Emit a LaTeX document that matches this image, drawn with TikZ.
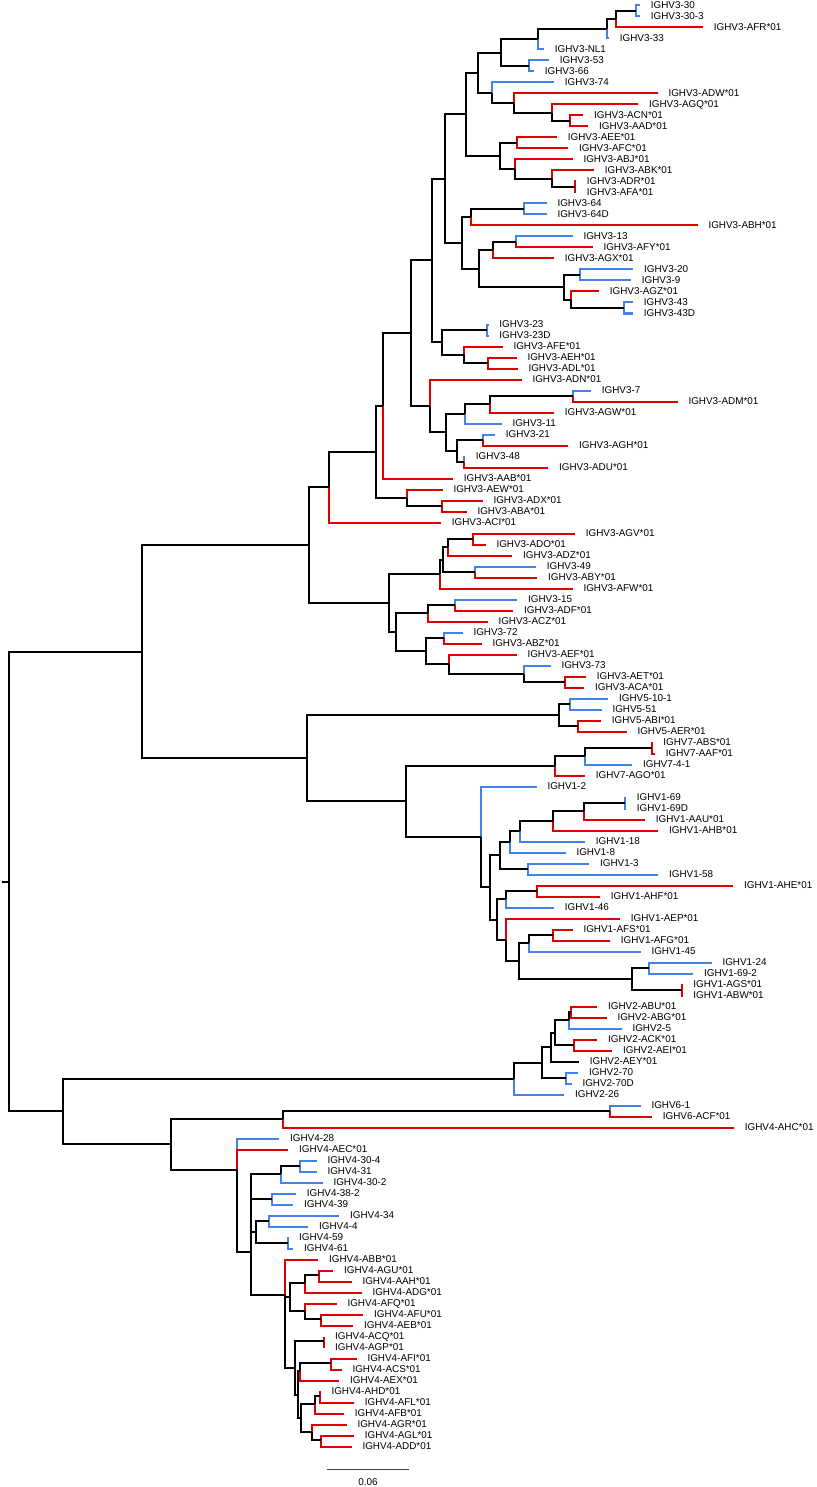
\documentclass[tikz,border=0pt]{standalone}
\usepackage{fontspec}
\setmainfont{Liberation Sans}
\definecolor{refblue}{RGB}{66,130,236}
\definecolor{novelred}{RGB}{222,0,0}
\tikzset{
branch/.style={line width=2pt, line join=miter}, % every branch of the tree
internal/.style={branch, draw=black}, % branches between two splits
known/.style={branch, draw=refblue}, % branch to a known gene
novel/.style={branch, draw=novelred}, % branch to a novel allele
blackleaf/.style={branch, draw=black}, % branch to a leaf left uncoloured
gene/.style={anchor=west, inner sep=0pt, xshift=10.6pt, font=\fontsize{9.9}{10}\selectfont}, % gene names
}

\begin{document}
\begin{tikzpicture}[x=1pt, y=-1pt]
  \useasboundingbox (0,0) rectangle (816,1487);
  % splits of the tree (x = distance, y = between first and last child)
  \foreach \n/\x/\y in {A1/636/11, A2/616/19.25, A3/607/28.9, A4/538/39.2, A5/529/66, A6/501/52.6,
    C1/570/121, C2/551.7/112.75, C3/514.3/103.1, C4/492.3/92.8, A7/477.7/72.7,
    D1/516.7/143, D2/575/187, D3/551.7/178.75, D4/515/169.1, D5/500/156, A8/465.7/114.3,
    F1/524/209, F2/471/217.25, G1/515.7/242, G2/493.3/250.25, H1/580/275, H2/624/308,
    H3/570.7/299.75, H4/564/287.4, G3/479/268.8, E/461.7/243, A9/445/178.7,
    K1/487.3/330, K2/488.3/363, K3/464/354.75, J/441.7/342.4, A10/432.3/260.5,
    N1/572.7/396, N2/490/404.25, N3/465/413.9, N4/483.3/440, N5/464/462, N6/457.3/451,
    N7/445.7/432.4, L/430/405.95, A11/410.7/333.2, A12/383.3/405.85,
    P1/441.7/506, P2/407.3/497.75, A13/376/451.8, A14/329.3/487.15,
    R1/473.3/539, R2/448.3/547.25, R3/475/572, R4/443/559.6, R5/440/574,
    S1/455/605, S2/428.3/613.25, S3/444/638, S4/565/682, S5/524/673.75, S6/449/664.1,
    S7/426/651, S8/396/632.1, Q/389.3/603, A15/309/545.1,
    U1/570/704, U2/577.7/726, U3/559.3/715, W1/651.7/748, W2/585/756.25, W3/555/765.9,
    Y1/625/803, Y2/584/811.25, Y3/553.3/820.9, Y4/520/831.2, Y5/510/841.85, Y6/527.7/869, Y7/500/855.4,
    Z1/536.7/891, Z2/506/899.25, AB1/553.3/935, AB2/529.3/943.25, AC1/649.3/968, AC2/681.7/990,
    AC3/631.7/979, AA2/519.3/961.1, AA1/506.3/939.8,
    X3/497.3/919.5, X2/490/887.45, X1/481/836.97, V2/406/801.4, V/307.3/758.2, T0/142.3/651.65,
    BA1/566/1078, BB1/574/1045, BC1/570.7/1012, BC2/569.3/1020.25, BC3/555/1032.6,
    BC4/550.7/1047, BC5/542.3/1062.5, BC6/514.3/1078.5, BD0/610/1111, BD1/282.7/1118.75,
    GA1/300/1166, GA2/281/1174.25, GA3/272.3/1199, GA4/269.3/1221, GA5/287.7/1243,
    GA6/255.7/1232, Gx1/250.7/1186.6, Gx2/250.7/1209.3,
    GD1a/319.3/1275, GD1/305/1283.25, GD2a/320.7/1319, GD2/305/1310.75, GD/290/1297,
    GE1/324.3/1341, GF1/331/1363, GF2/300/1371.25, GH1/320/1396, GH2/315/1404.25,
    GI1/320.7/1440, GI2/311.7/1431.75, GH3/300.7/1418, GEx/297.5/1394.6, GE/295/1367.8,
    GC/285/1332.4, GB/285/1295.45, G5/250.7/1252.4, G4b/237.3/1201.1, G4/237.3/1169.8,
    T2/171.3/1144.3, T1/63.3/1111.4, root/9/881.5}
    \coordinate (\n) at (\x,\y);
  \coordinate (stub) at (1.7,881.5);

  % leaves, top to bottom, 11 apart
  \foreach \id/\tip/\up/\kind/\txt [count=\i] in {
    v330/640/A1/known/IGHV3-30, v3303/640/A1/known/IGHV3-30-3, v3AFR/703/A2/novel/IGHV3-AFR*01,
    v333/609/A3/known/IGHV3-33, v3NL1/544/A4/known/IGHV3-NL1, v353/549/A5/known/IGHV3-53,
    v366/534/A5/known/IGHV3-66, v374/554/C4/known/IGHV3-74, v3ADW/657.7/C3/novel/IGHV3-ADW*01,
    v3AGQ/638.3/C2/novel/IGHV3-AGQ*01, v3ACN/583.3/C1/novel/IGHV3-ACN*01, v3AAD/588.3/C1/novel/IGHV3-AAD*01,
    v3AEE/557/D1/novel/IGHV3-AEE*01, v3AFC/568.3/D1/novel/IGHV3-AFC*01, v3ABJ/572.7/D4/novel/IGHV3-ABJ*01,
    v3ABK/594/D3/novel/IGHV3-ABK*01, v3ADR/576/D2/novel/IGHV3-ADR*01, v3AFA/576/D2/novel/IGHV3-AFA*01,
    v364/546.7/F1/known/IGHV3-64, v364D/546.7/F1/known/IGHV3-64D, v3ABH/697.7/F2/novel/IGHV3-ABH*01,
    v313/572.7/G1/known/IGHV3-13, v3AFY/592.7/G1/novel/IGHV3-AFY*01, v3AGX/554/G2/novel/IGHV3-AGX*01,
    v320/633.3/H1/known/IGHV3-20, v39/631/H1/known/IGHV3-9, v3AGZ/599/H3/novel/IGHV3-AGZ*01,
    v343/633/H2/known/IGHV3-43, v343D/633/H2/known/IGHV3-43D, v323/488.5/K1/known/IGHV3-23,
    v323D/488.5/K1/known/IGHV3-23D, v3AFE/502.7/K3/novel/IGHV3-AFE*01, v3AEH/516.7/K2/novel/IGHV3-AEH*01,
    v3ADL/517.7/K2/novel/IGHV3-ADL*01, v3ADN/521.7/L/novel/IGHV3-ADN*01, v37/591/N1/known/IGHV3-7,
    v3ADM/677.7/N1/novel/IGHV3-ADM*01, v3AGW/554/N2/novel/IGHV3-AGW*01, v311/501.7/N3/known/IGHV3-11,
    v321/495/N4/known/IGHV3-21, v3AGH/568.3/N4/novel/IGHV3-AGH*01, v348/465/N5/known/IGHV3-48,
    v3ADU/548.3/N5/novel/IGHV3-ADU*01, v3AAB/453/A12/novel/IGHV3-AAB*01, v3AEW/442.7/P2/novel/IGHV3-AEW*01,
    v3ADX/482.7/P1/novel/IGHV3-ADX*01, v3ABA/466.7/P1/novel/IGHV3-ABA*01, v3ACI/441/A14/novel/IGHV3-ACI*01,
    v3AGV/575/R1/novel/IGHV3-AGV*01, v3ADO/485.7/R1/novel/IGHV3-ADO*01, v3ADZ/512.3/R2/novel/IGHV3-ADZ*01,
    v349/536/R3/known/IGHV3-49, v3ABY/537.3/R3/novel/IGHV3-ABY*01, v3AFW/572.7/R5/novel/IGHV3-AFW*01,
    v315/517.3/S1/known/IGHV3-15, v3ADF/513.3/S1/novel/IGHV3-ADF*01, v3ACZ/487.7/S2/novel/IGHV3-ACZ*01,
    v372/462.7/S3/known/IGHV3-72, v3ABZ/481.7/S3/novel/IGHV3-ABZ*01, v3AEF/516.7/S6/novel/IGHV3-AEF*01,
    v373/550.7/S5/known/IGHV3-73, v3AET/586/S4/novel/IGHV3-AET*01, v3ACA/584.3/S4/novel/IGHV3-ACA*01,
    v5101/608.3/U1/known/IGHV5-10-1, v551/601.7/U1/known/IGHV5-51, v5ABI/601/U2/novel/IGHV5-ABI*01,
    v5AER/626.7/U2/novel/IGHV5-AER*01, v7ABS/652.5/W1/novel/IGHV7-ABS*01, v7AAF/655/W1/novel/IGHV7-AAF*01,
    v741/632.3/W2/known/IGHV7-4-1, v7AGO/585/W3/novel/IGHV7-AGO*01, v12/536.7/X1/known/IGHV1-2,
    v169/626/Y1/known/IGHV1-69, v169D/626/Y1/known/IGHV1-69D, v1AAU/645/Y2/novel/IGHV1-AAU*01,
    v1AHB/658.3/Y3/novel/IGHV1-AHB*01, v118/585/Y4/known/IGHV1-18, v18/565.7/Y5/known/IGHV1-8,
    v13/589.3/Y6/known/IGHV1-3, v158/658.3/Y6/known/IGHV1-58, v1AHE/733.3/Z1/novel/IGHV1-AHE*01,
    v1AHF/600/Z1/novel/IGHV1-AHF*01, v146/554/Z2/known/IGHV1-46, v1AEP/620/AA1/novel/IGHV1-AEP*01,
    v1AFS/572.7/AB1/novel/IGHV1-AFS*01, v1AFG/610/AB1/novel/IGHV1-AFG*01, v145/640.7/AB2/known/IGHV1-45,
    v124/711.7/AC1/known/IGHV1-24, v1692/693.3/AC1/known/IGHV1-69-2, v1AGS/682.5/AC2/novel/IGHV1-AGS*01,
    v1ABW/682.5/AC2/novel/IGHV1-ABW*01, v2ABU/597.3/BC1/novel/IGHV2-ABU*01, v2ABG/606.7/BC1/novel/IGHV2-ABG*01,
    v25/621.7/BC2/known/IGHV2-5, v2ACK/597.3/BB1/novel/IGHV2-ACK*01, v2AEI/612.3/BB1/novel/IGHV2-AEI*01,
    v2AEY/579/BC4/blackleaf/IGHV2-AEY*01, v270/578.3/BA1/known/IGHV2-70, v270D/571.7/BA1/known/IGHV2-70D,
    v226/564.3/BC6/known/IGHV2-26, v61/640.7/BD0/known/IGHV6-1, v6ACF/652/BD0/novel/IGHV6-ACF*01,
    v4AHC/734/BD1/novel/IGHV4-AHC*01, v428/279.3/G4/known/IGHV4-28, v4AEC/288.3/G4b/novel/IGHV4-AEC*01,
    v4304/316.7/GA1/known/IGHV4-30-4, v431/316.7/GA1/known/IGHV4-31, v4302/322.7/GA2/known/IGHV4-30-2,
    v4382/296/GA3/known/IGHV4-38-2, v439/293.3/GA3/known/IGHV4-39, v434/339.3/GA4/known/IGHV4-34,
    v44/308.3/GA4/known/IGHV4-4, v459/288.3/GA5/known/IGHV4-59, v461/293.3/GA5/known/IGHV4-61,
    v4ABB/318.3/GB/novel/IGHV4-ABB*01, v4AGU/333.3/GD1a/novel/IGHV4-AGU*01, v4AAH/351.7/GD1a/novel/IGHV4-AAH*01,
    v4ADG/361.7/GD1/novel/IGHV4-ADG*01, v4AFQ/336.7/GD2/novel/IGHV4-AFQ*01, v4AFU/363.3/GD2a/novel/IGHV4-AFU*01,
    v4AEB/353.3/GD2a/novel/IGHV4-AEB*01, v4ACQ/324.3/GE1/novel/IGHV4-ACQ*01, v4AGP/324.3/GE1/novel/IGHV4-AGP*01,
    v4AFI/356.7/GF1/novel/IGHV4-AFI*01, v4ACS/341.7/GF1/novel/IGHV4-ACS*01, v4AEX/339.3/GF2/novel/IGHV4-AEX*01,
    v4AHD/320.7/GH1/novel/IGHV4-AHD*01, v4AFL/354/GH1/novel/IGHV4-AFL*01, v4AFB/344/GH2/novel/IGHV4-AFB*01,
    v4AGR/346.7/GI2/novel/IGHV4-AGR*01, v4AGL/354/GI1/novel/IGHV4-AGL*01, v4ADD/351.7/GI1/novel/IGHV4-ADD*01}{
    \coordinate (\id) at (\tip,{5.5+11*(\i-1)});
    \node[gene] (n\id) at (\id) {\txt};
    \draw[\kind] (\up) |- (\id);
  }

  % internal branches, parent/child
  \foreach \up/\down in {A2/A1, A3/A2, A4/A3, A6/A4, A6/A5, A7/A6, C2/C1, C3/C2, C4/C3, A7/C4,
    A8/A7, D5/D1, D3/D2, D4/D3, D5/D4, A8/D5, A9/A8, F2/F1, E/F2, G2/G1, G3/G2, H4/H1, H3/H2,
    H4/H3, G3/H4, E/G3, A9/E, A10/A9, J/K1, K3/K2, J/K3, A10/J, A11/A10, N2/N1, N3/N2, N7/N3,
    N6/N4, N6/N5, N7/N6, L/N7, A11/L, A12/A11, A13/A12, P2/P1, A13/P2, A14/A13, A15/A14,
    R2/R1, R4/R2, R4/R3, R5/R4, Q/R5, S2/S1, S8/S2, S7/S3, S5/S4, S6/S5, S7/S6, S8/S7, Q/S8,
    A15/Q, T0/A15, U3/U1, U3/U2, V/U3, W2/W1, W3/W2, V2/W3, Y2/Y1, Y3/Y2, Y4/Y3, Y5/Y4,
    Y7/Y5, Y7/Y6, X2/Y7, Z2/Z1, X3/Z2, AB2/AB1, AA2/AB2, AC3/AC1, AC3/AC2, AA2/AC3, AA1/AA2,
    X3/AA1, X2/X3, X1/X2, V2/X1, V/V2, T0/V, root/T0, BC2/BC1, BC3/BC2, BC3/BB1, BC4/BC3,
    BC5/BC4, BC5/BA1, BC6/BC5, T1/BC6, BD1/BD0, T2/BD1, GA2/GA1, Gx1/GA2, Gx1/GA3, GA6/GA4,
    GA6/GA5, Gx2/Gx1, Gx2/GA6, G5/Gx2, GD1/GD1a, GD/GD1, GD2/GD2a, GD/GD2, GC/GD, GF2/GF1,
    GEx/GF2, GH2/GH1, GH3/GH2, GI2/GI1, GH3/GI2, GEx/GH3, GE/GE1, GE/GEx, GC/GE, GB/GC,
    G5/GB, G4b/G5, G4/G4b, T2/G4, T1/T2, root/T1}
    \draw[internal] (\up) |- (\down);
  \draw[internal] (stub) -- (root);

  % scale bar
  \coordinate (bar1) at (326.7,1469);
  \coordinate (bar2) at (409.3,1469);
  \draw[black!75, line width=0.9pt] (bar1) -- (bar2);
  \node[font=\fontsize{9.9}{10}\selectfont, inner sep=0pt] (barlabel) at (368,1482) {0.06};
\end{tikzpicture}
\end{document}
